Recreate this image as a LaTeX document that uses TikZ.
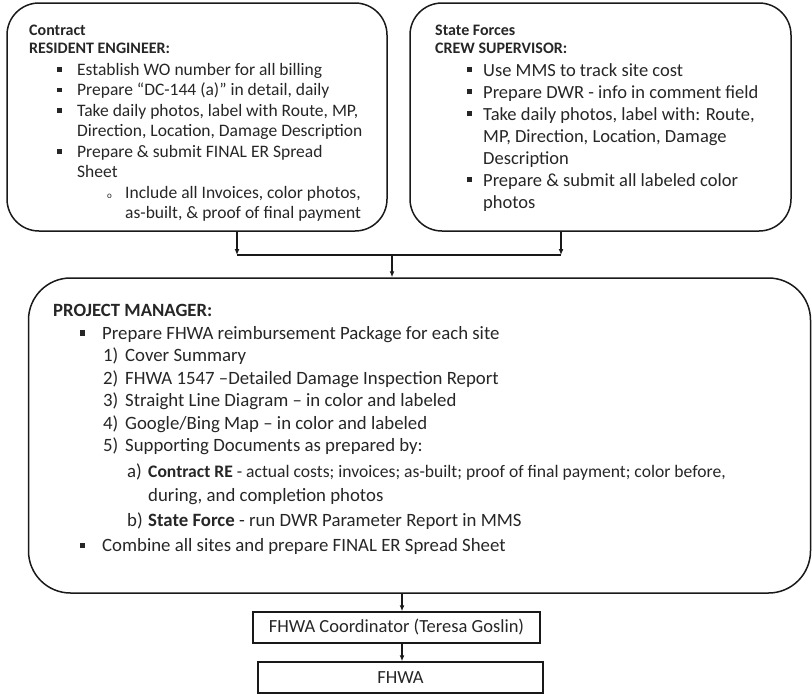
\documentclass[tikz,border=0pt]{standalone}
\usepackage{fontspec}
\setmainfont{Carlito}
\usetikzlibrary{arrows.meta}
\tikzset{>={Latex[length=6pt,width=5pt]}}
\newcommand{\sqbul}[1][20pt]{\makebox[#1][l]{\rule[0.2em]{0.27em}{0.27em}}}
\newcommand{\numit}[2]{\makebox[#1][l]{#2}}

\begin{document}
\begin{tikzpicture}[x=1pt,y=-1pt,
  rbox/.style={draw=black!90,line width=1.5pt,inner sep=0pt},
  sbox/.style={draw=black!90,line width=1.5pt,inner sep=0pt,font=\fontsize{18.5}{22}\selectfont,text=black!85},
  head/.style={anchor=north west,inner sep=0pt,align=left,text=black!85,font=\fontsize{16}{18}\selectfont\bfseries},
  items/.style={anchor=north west,inner sep=0pt,align=left,text=black!85},
  conn/.style={draw=black!90,line width=1.5pt}]
  \useasboundingbox (0,0) rectangle (812,694);
  % boxes
  \node[rbox,rounded corners=32pt,minimum width=380pt,minimum height=228pt] (re) at (197,117) {};
  \node[rbox,rounded corners=32pt,minimum width=381pt,minimum height=228pt] (cs) at (600.5,117) {};
  \node[rbox,rounded corners=42pt,minimum width=782pt,minimum height=315pt] (pm) at (419.5,435.5) {};
  \node[sbox,minimum width=287pt,minimum height=31pt] (co) at (396.5,627.5) {FHWA Coordinator (Teresa Goslin)};
  \node[sbox,minimum width=285pt,minimum height=31pt] (fh) at (400.5,677.5) {FHWA};
  % resident engineer
  \node[head] (rehead) at (29,25) {Contract\\RESIDENT ENGINEER:};
  \node[items,font=\fontsize{17.5}{20.5}\selectfont] (relist) at (57,63) {%
    \sqbul Establish WO number for all billing\\
    \sqbul Prepare “DC-144 (a)” in detail, daily\\
    \sqbul Take daily photos, label with Route, MP,\\
    \hspace*{20pt}Direction, Location, Damage Description\\
    \sqbul Prepare \& submit FINAL ER Spread\\
    \hspace*{20pt}Sheet\\
    \hspace*{50pt}\numit{18pt}{\small o}Include all Invoices, color photos,\\
    \hspace*{68pt}as-built, \& proof of final payment};
  % crew supervisor
  \node[head] (cshead) at (435,25) {State Forces\\CREW SUPERVISOR:};
  \node[items,font=\fontsize{18.5}{22}\selectfont] (cslist) at (467,63) {%
    \sqbul[16pt]Use MMS to track site cost\\
    \sqbul[16pt]Prepare DWR - info in comment field\\
    \sqbul[16pt]Take daily photos, label with: Route,\\
    \hspace*{16pt}MP, Direction, Location, Damage\\
    \hspace*{16pt}Description\\
    \sqbul[16pt]Prepare \& submit all labeled color\\
    \hspace*{16pt}photos};
  % project manager
  \node[head,font=\fontsize{18.7}{22}\selectfont\bfseries] (pmhead) at (53,304) {PROJECT MANAGER:};
  \node[items,font=\fontsize{18.8}{22.5}\selectfont] (pmlist) at (80,326) {%
    \sqbul[22pt]Prepare FHWA reimbursement Package for each site\\
    \hspace*{23pt}\numit{22pt}{1)}Cover Summary\\
    \hspace*{23pt}\numit{22pt}{2)}FHWA 1547 –Detailed Damage Inspection Report\\
    \hspace*{23pt}\numit{22pt}{3)}Straight Line Diagram – in color and labeled\\
    \hspace*{23pt}\numit{22pt}{4)}Google/Bing Map – in color and labeled\\
    \hspace*{23pt}\numit{22pt}{5)}Supporting Documents as prepared by:\\[3pt]
    \hspace*{47pt}\numit{21pt}{a)}{\fontsize{17.6}{22.5}\selectfont\textbf{Contract RE} - actual costs; invoices; as-built; proof of final payment; color before,}\\[2pt]
    \hspace*{68pt}during, and completion photos\\[2pt]
    \hspace*{47pt}\numit{21pt}{b)}\textbf{State Force} - run DWR Parameter Report in MMS\\[3pt]
    \sqbul[22pt]Combine all sites and prepare FINAL ER Spread Sheet};
  % connectors
  \coordinate (jl) at (237,255);
  \coordinate (jr) at (561,255);
  \coordinate (jm) at (392,255);
  \coordinate (jb) at (402,600);
  \draw[conn,->] (re.south -| jl) -- (jl);
  \draw[conn,->] (cs.south -| jr) -- (jr);
  \draw[conn] (jl) -- (jr);
  \draw[conn,->] (jm) -- (pm.north -| jm);
  \draw[conn,->] (pm.south -| jb) -- (co.north -| jb);
  \draw[conn,->] (co.south -| jb) -- (fh.north -| jb);
\end{tikzpicture}
\end{document}
